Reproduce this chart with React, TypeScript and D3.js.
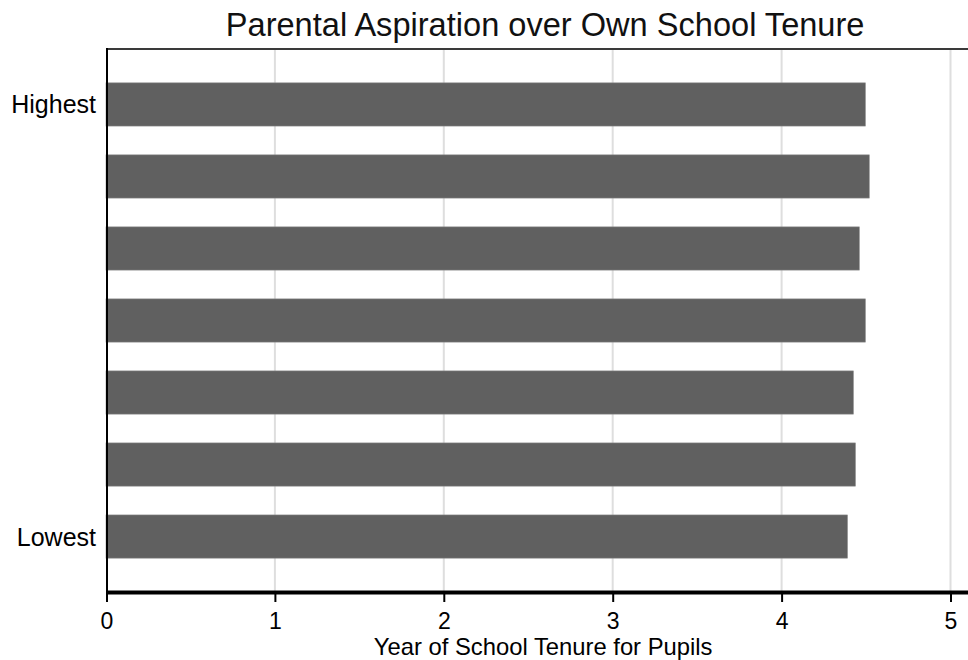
import { useEffect, useRef } from 'react'
import * as d3 from 'd3'

// aspiration level, top to bottom
const levels = [7, 6, 5, 4, 3, 2, 1]
const levelLabels = ['Highest', '', '', '', '', '', 'Lowest']
// mean years of school tenure per level
const tenure = [4.496, 4.519, 4.46, 4.496, 4.425, 4.437, 4.39]
const xTicks = [0, 1, 2, 3, 4, 5]

const W = 968
const H = 660
const FONT = "'Liberation Sans', Arial, sans-serif"

export default function App() {
  const svgRef = useRef<SVGSVGElement>(null)

  useEffect(() => {
    const svgEl = svgRef.current
    if (!svgEl) return

    const left = 106
    const top = 49
    const bottom = 592
    const unit = 168.9

    const x = d3.scaleLinear().domain([0, 5.2]).range([left, left + 5.2 * unit])
    const y = d3.scalePoint<number>().domain(levels).range([top, bottom]).padding(0.77)
    const barH = y.step() * 0.6
    const midX = (x.range()[0] + x.range()[1]) / 2

    const svg = d3.select(svgEl)
    svg.selectAll('*').remove()

    // Gridlines
    svg.append('g')
      .selectAll('line')
      .data(xTicks.filter(d => d > 0))
      .join('line')
      .attr('x1', d => x(d))
      .attr('x2', d => x(d))
      .attr('y1', top)
      .attr('y2', bottom)
      .style('stroke', '#dedede')
      .style('stroke-width', '2')

    // Bars
    svg.append('g')
      .selectAll('rect')
      .data(levels)
      .join('rect')
      .attr('x', x(0))
      .attr('y', (d) => y(d)! - barH / 2)
      .attr('width', (_, i) => x(tenure[i]) - x(0))
      .attr('height', barH)
      .style('fill', '#606060')
      .style('stroke', '#8a8a8a')
      .style('stroke-width', '0.6')

    // Top frame line
    svg.append('line')
      .attr('x1', left)
      .attr('x2', W)
      .attr('y1', top)
      .attr('y2', top)
      .style('stroke', '#3a3a3a')
      .style('stroke-width', '2')

    // Left axis line
    svg.append('line')
      .attr('x1', left + 1)
      .attr('x2', left + 1)
      .attr('y1', top - 1)
      .attr('y2', bottom)
      .style('stroke', '#000')
      .style('stroke-width', '2')

    // X axis
    const xAxisG = svg.append('g').attr('transform', `translate(0,${bottom})`)
    xAxisG.call(
      d3.axisBottom(x)
        .tickValues(xTicks)
        .tickSize(10)
        .tickSizeOuter(0)
        .tickPadding(10.2)
        .tickFormat(d => `${d}`),
    )
    xAxisG.select('.domain').style('stroke', '#000').style('stroke-width', '4')
    xAxisG.selectAll('.tick line').style('stroke', '#000').style('stroke-width', '2')
    xAxisG.selectAll('.tick').filter((d) => d === 0).attr('transform', `translate(${left + 1},0)`)
    xAxisG.selectAll('text')
      .style('fill', '#000')
      .style('font-size', '23px')
      .style('font-family', FONT)

    // Y labels
    svg.append('g')
      .selectAll('text')
      .data(levels)
      .join('text')
      .attr('x', left - 10)
      .attr('y', d => y(d)!)
      .attr('dy', '0.36em')
      .attr('text-anchor', 'end')
      .style('fill', '#000')
      .style('font-size', '25px')
      .style('font-family', FONT)
      .text((_, i) => levelLabels[i])

    // X axis label
    svg.append('text')
      .attr('x', midX - 2)
      .attr('y', 655)
      .attr('text-anchor', 'middle')
      .style('fill', '#000')
      .style('font-size', '23.8px')
      .style('font-family', FONT)
      .text('Year of School Tenure for Pupils')

    // Title
    svg.append('text')
      .attr('x', midX)
      .attr('y', 36)
      .attr('text-anchor', 'middle')
      .style('fill', '#111')
      .style('font-size', '32.6px')
      .style('font-family', FONT)
      .text('Parental Aspiration over Own School Tenure')
  }, [])

  return (
    <div style={{ position: 'absolute', left: 0, top: 0, width: W, height: H, background: '#fff' }}>
      <svg ref={svgRef} width={W} height={H} style={{ display: 'block' }} />
    </div>
  )
}
